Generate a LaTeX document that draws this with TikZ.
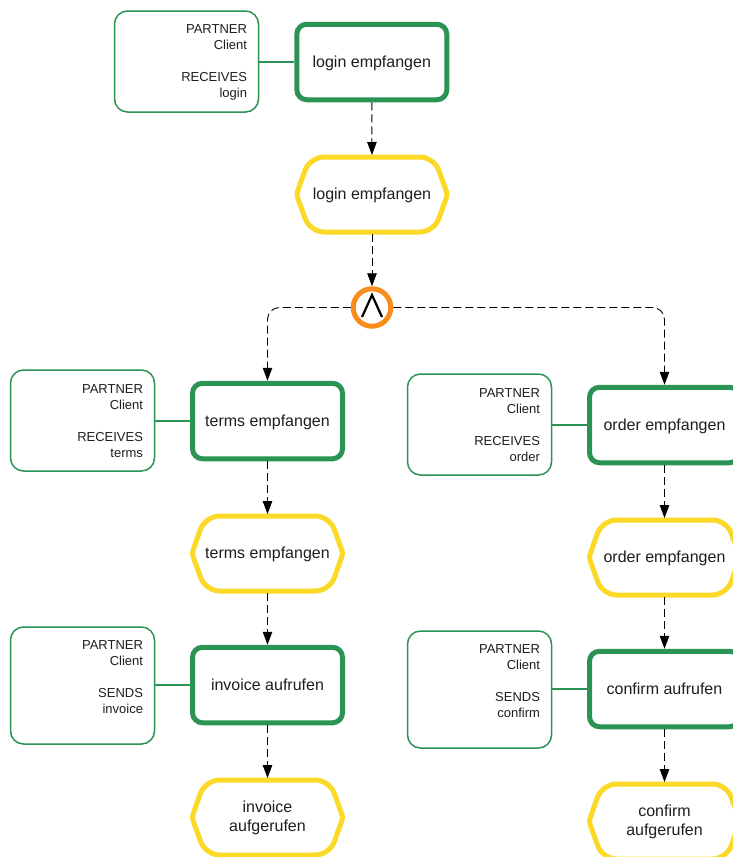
\documentclass[tikz,border=0pt]{standalone}
\usepackage{fontspec}
\setmainfont{Liberation Sans}
\usetikzlibrary{arrows.meta}
\definecolor{taskgreen}{HTML}{2B9353}
\definecolor{evtyellow}{HTML}{FBD926}
\definecolor{gworange}{HTML}{FA8C1E}
\definecolor{inktext}{HTML}{1E1E1E}
\tikzset{
  taskbox/.style={draw=taskgreen,line width=5pt,rounded corners=10pt,minimum width=150pt,minimum height=75.5pt,inner sep=0pt,fill=white,text=inktext,font=\fontsize{16}{19}\selectfont,align=center},
  notebox/.style={draw=taskgreen,line width=1.5pt,rounded corners=13pt,minimum width=#1,inner sep=0pt,fill=white,text=inktext,font=\fontsize{13}{16}\selectfont,align=right},
  evtbox/.style={minimum width=154pt,minimum height=79pt,inner sep=0pt,outer sep=0pt,text=inktext,font=\fontsize{16}{19}\selectfont,align=center},
  evtline/.style={draw=evtyellow,line width=5pt,fill=white,line join=round},
  link/.style={draw=taskgreen,line width=1.5pt},
  flow/.style={draw=black,line width=0.9pt,dash pattern=on 8pt off 4pt,rounded corners=12pt,-{Triangle[length=13pt,width=9.5pt]}},
  gate/.style={circle,draw=gworange,line width=5pt,minimum size=37.5pt,inner sep=0pt,fill=white},
}
\newcommand{\low}[1]{\raisebox{-0.8pt}[11pt][3.5pt]{#1}}
\newcommand{\lowt}[1]{\raisebox{-1.7pt}[11pt][3.5pt]{#1}}
\newcommand{\ntop}{\rule{0pt}{10.5pt}}
% name, cx, cy, text
\newcommand{\evtshape}[4]{%
  \draw[evtline] (#2-69,#3-18.75)
    [rounded corners=14pt] -- (#2-62,#3-37.5) -- (#2+62,#3-37.5)
    [rounded corners=3pt] -- (#2+75.5,#3)
    [rounded corners=14pt] -- (#2+62,#3+37.5) -- (#2-62,#3+37.5)
    [rounded corners=3pt] -- (#2-75.5,#3) -- cycle;
  \node[evtbox] (#1) at (#2,#3) {#4};
}
\begin{document}
\begin{tikzpicture}[x=1pt,y=-1pt]
\useasboundingbox[fill=white] (0,0) rectangle (733,857);

% top
\node[taskbox] (t0) at (371.8,62) {\lowt{login empfangen}};
\node[notebox=144pt,minimum height=101pt,text width=121pt] (n0) at (186.5,61.5) {\ntop PARTNER\\Client\\[16pt]RECEIVES\\login};
\evtshape{e0}{372}{194.5}{\low{login empfangen}}
\node[gate] (gw) at (372,307.5) {};
\draw[black,line width=2.2pt] ([shift={(-10,9.5)}]gw.center) -- ([shift={(0,-12.5)}]gw.center) -- ([shift={(10,9.5)}]gw.center);

% left
\node[taskbox] (t1) at (267.5,421) {\lowt{terms empfangen}};
\node[notebox=144pt,minimum height=101pt,text width=121pt] (n1) at (82.5,420.5) {\ntop PARTNER\\Client\\[16pt]RECEIVES\\terms};
\evtshape{e1}{267.5}{553.5}{\low{terms empfangen}}
\node[taskbox] (t2) at (267.5,685) {\lowt{invoice aufrufen}};
\node[notebox=144pt,minimum height=117pt,text width=121pt] (n2) at (82.5,685.5) {\ntop PARTNER\\Client\\[16pt]SENDS\\invoice\\[3pt]\mbox{}};
\evtshape{e2}{267.5}{817.5}{\low{invoice}\\\low{aufgerufen}}

% right
\node[taskbox] (t3) at (664.5,425) {\lowt{order empfangen}};
\node[notebox=144pt,minimum height=101pt,text width=121pt] (n3) at (479.5,424.5) {\ntop PARTNER\\Client\\[16pt]RECEIVES\\order};
\evtshape{e3}{664.5}{557.5}{\low{order empfangen}}
\node[taskbox] (t4) at (664.5,689) {\lowt{confirm aufrufen}};
\node[notebox=144pt,minimum height=117pt,text width=121pt] (n4) at (479.5,689.5) {\ntop PARTNER\\Client\\[16pt]SENDS\\confirm\\[3pt]\mbox{}};
\evtshape{e4}{664.5}{821.5}{\low{confirm}\\\low{aufgerufen}}

% associations
\draw[link] (n0.east |- t0.west) -- (t0.west);
\draw[link] (n1.east |- t1.west) -- (t1.west);
\draw[link] (n2.east |- t2.west) -- (t2.west);
\draw[link] (n3.east |- t3.west) -- (t3.west);
\draw[link] (n4.east |- t4.west) -- (t4.west);

% sequence flows
\draw[flow] (t0) -- (e0);
\draw[flow] (e0) -- (gw);
\draw[flow] (gw) -| (t1);
\draw[flow] (gw) -| (t3);
\draw[flow] (t1) -- (e1);
\draw[flow] (e1) -- (t2);
\draw[flow] (t2) -- (e2);
\draw[flow] (t3) -- (e3);
\draw[flow] (e3) -- (t4);
\draw[flow] (t4) -- (e4);
\end{tikzpicture}
\end{document}
